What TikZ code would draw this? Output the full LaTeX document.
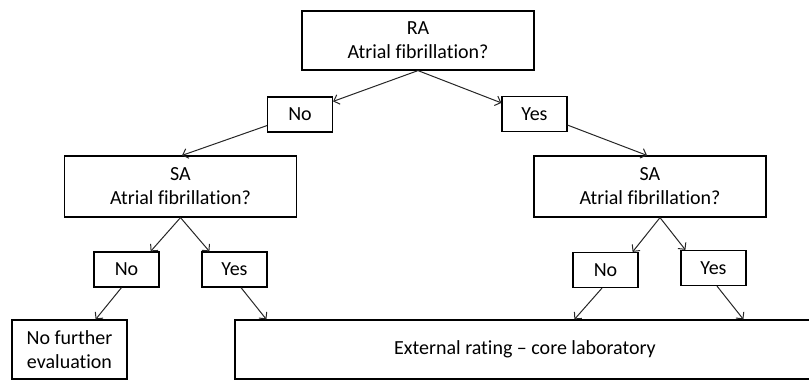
\documentclass[tikz,border=0pt]{standalone}
\usepackage{fontspec}
\setmainfont{Carlito}[Ligatures={TeX,NoCommon}]
\usepackage{tikz}
\usetikzlibrary{arrows.meta, positioning, calc}
\tikzstyle{question} = [rectangle, draw=black, line width=1.2pt, minimum width=232pt, minimum height=60pt, text centered, align=center, inner sep=0pt]
\tikzstyle{answer} = [rectangle, draw=black, line width=1.2pt, minimum width=65pt, minimum height=35pt, text centered, inner sep=0pt]
\tikzstyle{result} = [rectangle, draw=black, line width=1.2pt, minimum height=59pt, text centered, align=center, inner sep=0pt]
\tikzstyle{arrow} = [draw=black!85, line width=1pt, ->, >={Straight Barb[length=5pt, width=10pt]}]

\begin{document}
\begin{tikzpicture}[
    x=1pt, y=-1pt,
    every node/.style={font=\fontsize{20}{24}\selectfont}
]
\useasboundingbox (0,0) rectangle (809,381);
% first question
\node [question, minimum height=59pt] (ra) at (418,40.5) {RA\\Atrial fibrillation?};
\node [answer] (no) at (300,114.5) {No};
\node [answer] (yes) at (534.5,114) {Yes};
% second question
\node [question, minimum height=61pt] (saleft) at (180.5,186.5) {SA\\Atrial fibrillation?};
\node [question, minimum height=61pt] (saright) at (650,186.5) {SA\\Atrial fibrillation?};
\node [answer] (noleft) at (126.5,269.5) {No};
\node [answer] (yesleft) at (234.5,269.5) {Yes};
\node [answer] (noright) at (605.5,270) {No};
\node [answer] (yesright) at (713.5,268) {Yes};
% outcomes
\node [result, minimum width=115pt] (stop) at (69.5,349.5) {No further\\evaluation};
\node [result, minimum width=580pt] (core) at (525,349.5) {External rating – core laboratory};

\draw [arrow] (ra.south) -- ([yshift=-5pt]no.north east);
\draw [arrow] (ra.south) -- ([yshift=-7pt]yes.north west);
\draw [arrow] ([yshift=7pt]no.south west) -- ([xshift=1.5pt]saleft.north);
\draw [arrow] ([yshift=7pt]yes.south east) -- ([xshift=-3pt]saright.north);
\draw [arrow] (saleft.south) -- ([xshift=-9pt]noleft.north east);
\draw [arrow] (saleft.south) -- ([xshift=8pt]yesleft.north west);
\draw [arrow] ([xshift=10pt]saright.south) -- ([xshift=-6pt]noright.north east);
\draw [arrow] ([xshift=10pt]saright.south) -- ([xshift=5pt]yesright.north west);
\draw [arrow] ([xshift=-5pt]noleft.south) -- ([xshift=-32pt]stop.north east);
\draw [arrow] ([xshift=6.5pt]yesleft.south) -- ([xshift=32pt]core.north west);
\draw [arrow] ([xshift=-3.5pt]noright.south) -- ([xshift=340pt]core.north west);
\draw [arrow] ([xshift=3.5pt]yesright.south) -- ([xshift=509pt]core.north west);
\end{tikzpicture}
\end{document}
